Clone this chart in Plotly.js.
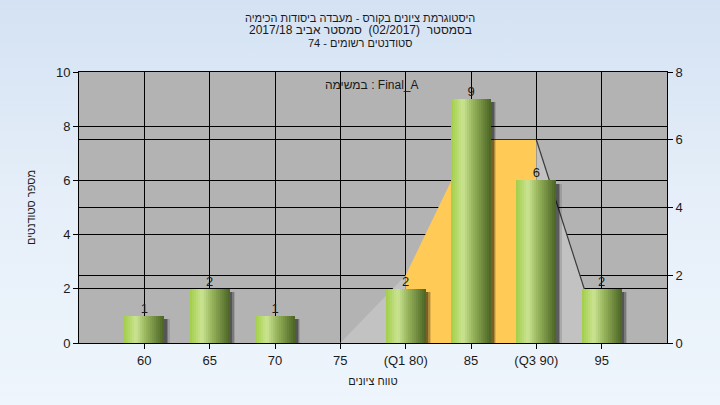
<!DOCTYPE html>
<html>
<head>
<meta charset="utf-8">
<script src="https://cdn.plot.ly/plotly-3.0.1.min.js"></script>
<style>
html,body{margin:0;padding:0;width:720px;height:405px;overflow:hidden;}
body{background:linear-gradient(to bottom,#d4e2f3 0%,#e6eff9 50%,#eef5fc 100%);}
#chart{width:720px;height:405px;}
</style>
</head>
<body>
<div id="chart"></div>
<script>
// ---- data ----
var categories = ['60','65','70','75','(Q1 80)','85','(Q3 90)','95'];
var counts = [1,2,1,0,2,9,6,2];
var curveX = ['75','(Q1 80)','85','(Q3 90)','95'];
var curveY = [0,2,6,6,0];
var q1Label = '(Q1 80)';
var q3Label = '(Q3 90)';
var titleLines = [
  'היסטוגרמת ציונים בקורס - מעבדה ביסודות הכימיה',
  '\u202Bבסמסטר  (02/2017)  סמסטר אביב 2017/18\u202C',
  'סטודנטים רשומים - 74'
];
var taskLabel = 'במשימה : Final_A';
var xTitle = 'טווח ציונים';
var yTitle = 'מספר סטודנטים';

// ---- build traces ----
var font = '"Liberation Sans", Arial, sans-serif';
var traces = [];
var iQ1 = curveX.indexOf(q1Label), iQ3 = curveX.indexOf(q3Label);
// left gray part
traces.push({x: curveX.slice(0, iQ1+1), y: curveY.slice(0, iQ1+1), xaxis:'x', yaxis:'y',
  type:'scatter', mode:'lines', fill:'tozeroy', fillcolor:'#c2c2c2', line:{width:0, color:'#c2c2c2'}, hoverinfo:'skip'});
// orange inter-quartile part
traces.push({x: curveX.slice(iQ1, iQ3+1), y: curveY.slice(iQ1, iQ3+1), xaxis:'x', yaxis:'y',
  type:'scatter', mode:'lines', fill:'tozeroy', fillcolor:'#ffca55', line:{width:0, color:'#ffca55'}, hoverinfo:'skip'});
// right gray part with line
traces.push({x: curveX.slice(iQ3), y: curveY.slice(iQ3), xaxis:'x', yaxis:'y',
  type:'scatter', mode:'lines', fill:'tozeroy', fillcolor:'#c2c2c2', line:{width:1.2, color:'#3a3a3a'}, hoverinfo:'skip'});

// bar shadows
var barW = 0.61;
[[0.085,'rgba(0,0,0,0.12)'],[0.06,'rgba(0,0,0,0.22)'],[0.04,'rgba(0,0,0,0.3)']].forEach(function(s){
  traces.push({type:'bar', x: categories, y: counts.map(function(v){return Math.max(0, v-0.12);}),
    xaxis:'x', yaxis:'y2', width: barW, offset: -barW/2 + s[0],
    marker:{color:s[1], line:{width:0}}, hoverinfo:'skip'});
});

// gradient slices of bars
function hex(c){return [parseInt(c.substr(1,2),16),parseInt(c.substr(3,2),16),parseInt(c.substr(5,2),16)];}
var stops = [[0,'#a2ce48'],[0.3,'#cbe492'],[0.55,'#97b45c'],[1,'#4a6422']];
function colAt(t){
  for (var k=0;k<stops.length-1;k++){
    if (t<=stops[k+1][0]){
      var a=hex(stops[k][1]), b=hex(stops[k+1][1]);
      var u=(t-stops[k][0])/(stops[k+1][0]-stops[k][0]);
      return 'rgb('+[0,1,2].map(function(j){return Math.round(a[j]+(b[j]-a[j])*u);}).join(',')+')';
    }
  }
  return stops[stops.length-1][1];
}
var N = 20;
for (var i=0;i<N;i++){
  var sw = barW/N;
  traces.push({type:'bar', x: categories, y: counts, xaxis:'x', yaxis:'y2',
    width: (i<N-1? sw+0.006 : sw), offset: -barW/2 + i*sw,
    marker:{color: colAt((i+0.5)/N), line:{width:0}}, hoverinfo:'skip'});
}
// value labels
traces.push({type:'scatter', mode:'text', x: categories, y: counts, xaxis:'x', yaxis:'y2',
  text: counts.map(function(v){return v>0? String(v): '';}), textposition:'top center',
  textfont:{family:font, size:13, color:'#1a1a1a'}, hoverinfo:'skip', cliponaxis:false});

var axisCommon = {showgrid:true, gridcolor:'#000', gridwidth:1, showline:true, linecolor:'#000', linewidth:1,
  ticks:'outside', ticklen:5, tickcolor:'#000', zeroline:false, tickfont:{family:font, size:13, color:'#1a1a1a'}};

var annotations = [];
var ys = [18, 30, 43];
var sizes = [11, 12, 11];
titleLines.forEach(function(t, k){
  annotations.push({text:t, xref:'paper', yref:'paper', x:(360-79)/588, y:(343-ys[k])/271,
    xanchor:'center', yanchor:'middle', showarrow:false, font:{family:font, size:sizes[k], color:'#1a1a1a'}});
});
annotations.push({text:taskLabel, xref:'paper', yref:'paper', x:(372-79)/588, y:(343-85)/271,
  xanchor:'center', yanchor:'middle', showarrow:false, font:{family:font, size:12, color:'#1a1a1a'}});

var layout = {
  width:720, height:405,
  margin:{l:79, r:53, t:72, b:62},
  paper_bgcolor:'rgba(0,0,0,0)', plot_bgcolor:'#b3b3b3',
  showlegend:false, barmode:'overlay', bargap:0,
  xaxis: Object.assign({}, axisCommon, {type:'category', categoryorder:'array', categoryarray:categories,
    range:[-1, 8], mirror:true, title:{text:xTitle, font:{family:font, size:11, color:'#1a1a1a'}, standoff:10}}),
  yaxis: Object.assign({}, axisCommon, {side:'right', range:[0,8], dtick:2}),
  yaxis2: Object.assign({}, axisCommon, {overlaying:'y', side:'left', range:[0,10], dtick:2,
    title:{text:yTitle, font:{family:font, size:11, color:'#1a1a1a'}, standoff:18}}),
  annotations: annotations
};
Plotly.newPlot('chart', traces, layout, {displayModeBar:false, staticPlot:true});
</script>
</body>
</html>
